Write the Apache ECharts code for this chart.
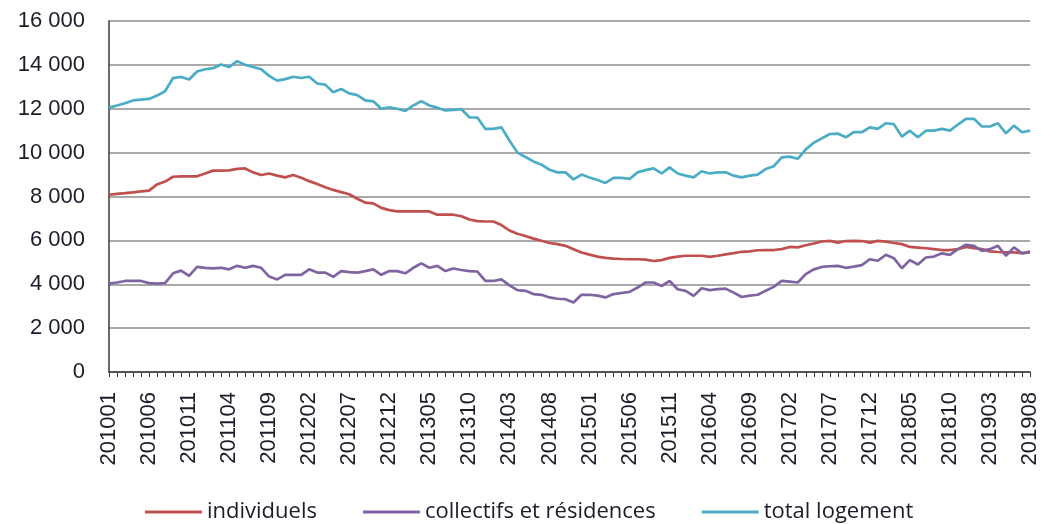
<!DOCTYPE html>
<html>
<head>
<meta charset="utf-8">
<script src="https://cdn.jsdelivr.net/npm/echarts@6/dist/echarts.min.js"></script>
<style>html,body{margin:0;padding:0;background:#fff}#c{width:1041px;height:524px}</style>
</head>
<body>
<div id="c"></div>
<script>
// Months 201001 .. 201908
const categories = [];
for (let y = 2010; y <= 2019; y++) {
  for (let m = 1; m <= 12; m++) {
    if (y === 2019 && m > 8) break;
    categories.push(String(y) + (m < 10 ? '0' + m : String(m)));
  }
}

const individuels = [
  8080, 8120, 8150, 8190, 8230, 8270, 8550, 8680, 8900, 8920,
  8920, 8920, 9050, 9180, 9180, 9190, 9260, 9280, 9100, 8980,
  9050, 8950, 8870, 8980, 8850, 8700, 8570, 8420, 8300, 8200,
  8100, 7900, 7720, 7690, 7480, 7380, 7320, 7320, 7320, 7320,
  7320, 7170, 7170, 7170, 7100, 6950, 6880, 6860, 6860, 6700,
  6450, 6300, 6200, 6080, 5980, 5880, 5830, 5750, 5600, 5450,
  5350, 5260, 5200, 5170, 5150, 5140, 5140, 5120, 5060, 5100,
  5200, 5260, 5300, 5300, 5300, 5250, 5300, 5360, 5420, 5480,
  5500, 5550, 5560, 5560, 5600, 5700, 5680, 5780, 5860, 5950,
  5980, 5900, 5970, 5980, 5970, 5900, 5980, 5940, 5880, 5830,
  5700, 5670, 5640, 5600, 5560, 5560, 5600, 5700, 5650, 5600,
  5500, 5470, 5450, 5450, 5420, 5450
];

const collectifs = [
  4030, 4080, 4150, 4150, 4150, 4050, 4030, 4050, 4500, 4620,
  4380, 4790, 4750, 4720, 4750, 4680, 4840, 4750, 4840, 4750,
  4350, 4220, 4430, 4430, 4430, 4680, 4530, 4530, 4340, 4600,
  4550, 4530, 4600, 4680, 4430, 4600, 4600, 4500, 4750, 4950,
  4750, 4840, 4600, 4720, 4650, 4600, 4580, 4150, 4150, 4220,
  3950, 3730, 3700, 3550, 3520, 3400, 3340, 3320, 3170, 3520,
  3520, 3480, 3400, 3550, 3600, 3650, 3850, 4080, 4080, 3920,
  4150, 3770, 3700, 3470, 3820, 3730, 3780, 3800, 3620, 3420,
  3480, 3520, 3700, 3880, 4150, 4120, 4080, 4460, 4680, 4790,
  4820, 4840, 4750, 4800, 4870, 5140, 5070, 5340, 5190, 4730,
  5100, 4900, 5220, 5260, 5410, 5340, 5600, 5800, 5750, 5520,
  5600, 5750, 5300, 5680, 5410, 5490
];

const total = [
  12050, 12150, 12250, 12380, 12420, 12450, 12600, 12800, 13400, 13450,
  13330, 13700, 13800, 13850, 14020, 13900, 14170, 14000, 13900, 13800,
  13500, 13280, 13350, 13460, 13400, 13460, 13150, 13100, 12750, 12900,
  12700, 12620, 12380, 12340, 12000, 12070, 12000, 11900, 12150, 12350,
  12150, 12050, 11920, 11950, 11980, 11610, 11600, 11080, 11080, 11150,
  10550, 10000, 9800, 9600, 9450, 9220, 9100, 9100, 8780, 9000,
  8870, 8750, 8620, 8850, 8850, 8800, 9100, 9200, 9280, 9050,
  9330, 9050, 8950, 8870, 9150, 9050, 9100, 9100, 8950, 8870,
  8950, 9000, 9250, 9380, 9780, 9820, 9720, 10150, 10450, 10650,
  10850, 10870, 10700, 10930, 10930, 11150, 11080, 11340, 11300, 10730,
  11000, 10700, 11000, 11000, 11080, 11000, 11280, 11540, 11540, 11190,
  11190, 11340, 10880, 11230, 10930, 11000
];

const seriesNames = ['individuels', 'collectifs et résidences', 'total logement'];
const colors = ['#C0504D', '#8064A2', '#4BACC6'];

const chart = echarts.init(document.getElementById('c'), null, {renderer: 'canvas'});
const textColor = '#1c1c2a';
const fontFam = '"Liberation Sans", Arial, sans-serif';

chart.setOption({
  animation: false,
  backgroundColor: '#ffffff',
  color: colors,
  grid: {left: 109, right: 10, top: 21, bottom: 152, containLabel: false},
  legend: {
    top: 496,
    left: 140,
    icon: 'rect',
    itemWidth: 57,
    itemHeight: 3,
    itemGap: 46,
    textStyle: {fontFamily: '"Open Sans", sans-serif', fontSize: 22, color: textColor},
    data: seriesNames
  },
  xAxis: {
    type: 'category',
    data: categories,
    boundaryGap: false,
    axisLine: {show: true, lineStyle: {color: '#3a3a3a', width: 1.5}},
    axisTick: {show: true, interval: 0, length: 5, lineStyle: {color: '#3a3a3a', width: 1}},
    axisLabel: {
      interval: 4,
      rotate: 90,
      margin: 20,
      fontFamily: fontFam,
      fontSize: 22,
      color: textColor
    },
    splitLine: {show: false}
  },
  yAxis: {
    type: 'value',
    min: 0,
    max: 16000,
    interval: 2000,
    axisLine: {show: true, lineStyle: {color: '#3a3a3a', width: 1.5}},
    axisTick: {show: false},
    axisLabel: {
      margin: 24,
      fontFamily: fontFam,
      fontSize: 22,
      color: textColor,
      formatter: function (v) {
        return String(v).replace(/\B(?=(\d{3})+(?!\d))/g, ' ');
      }
    },
    splitLine: {show: true, lineStyle: {color: '#8c8c8c', width: 1.5}}
  },
  series: [
    {name: seriesNames[0], type: 'line', data: individuels, showSymbol: false, symbol: 'none', lineStyle: {width: 2.7}},
    {name: seriesNames[1], type: 'line', data: collectifs, showSymbol: false, symbol: 'none', lineStyle: {width: 2.7}},
    {name: seriesNames[2], type: 'line', data: total, showSymbol: false, symbol: 'none', lineStyle: {width: 2.7}}
  ]
});
</script>
</body>
</html>
